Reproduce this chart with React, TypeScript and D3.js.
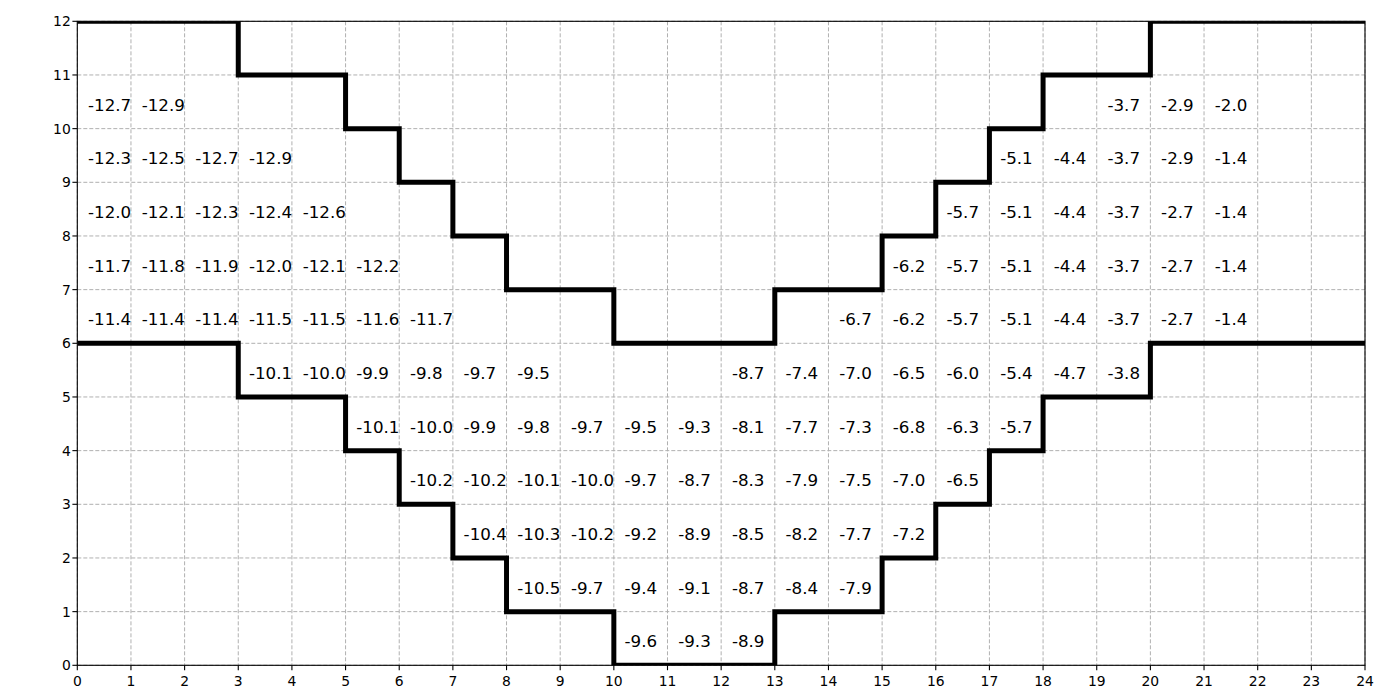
import React from "react";
import * as d3 from "d3";

// Step boundaries (x breakpoints, y level starting at each breakpoint)
const stepX = [0, 3, 5, 6, 7, 8, 10, 13, 15, 16, 17, 18, 20, 24];
const upperY = [12, 11, 10, 9, 8, 7, 6, 7, 8, 9, 10, 11, 12];
const lowerY = [6, 5, 4, 3, 2, 1, 0, 1, 2, 3, 4, 5, 6];

const xTicks = d3.range(0, 25);
const yTicks = d3.range(0, 13);

// Cell values: [row y, first column x, values...]
const row10: [number, number, number[]][] = [[10, 0, [-12.7, -12.9]], [10, 19, [-3.7, -2.9, -2.0]]];
const row9: [number, number, number[]][] = [[9, 0, [-12.3, -12.5, -12.7, -12.9]], [9, 17, [-5.1, -4.4, -3.7, -2.9, -1.4]]];
const row8: [number, number, number[]][] = [[8, 0, [-12.0, -12.1, -12.3, -12.4, -12.6]], [8, 16, [-5.7, -5.1, -4.4, -3.7, -2.7, -1.4]]];
const row7: [number, number, number[]][] = [[7, 0, [-11.7, -11.8, -11.9, -12.0, -12.1, -12.2]], [7, 15, [-6.2, -5.7, -5.1, -4.4, -3.7, -2.7, -1.4]]];
const row6: [number, number, number[]][] = [[6, 0, [-11.4, -11.4, -11.4, -11.5, -11.5, -11.6, -11.7]], [6, 14, [-6.7, -6.2, -5.7, -5.1, -4.4, -3.7, -2.7, -1.4]]];
const row5: [number, number, number[]][] = [[5, 3, [-10.1, -10.0, -9.9, -9.8, -9.7, -9.5]], [5, 12, [-8.7, -7.4, -7.0, -6.5, -6.0, -5.4, -4.7, -3.8]]];
const row4: [number, number, number[]][] = [[4, 5, [-10.1, -10.0, -9.9, -9.8, -9.7, -9.5, -9.3, -8.1, -7.7, -7.3, -6.8, -6.3, -5.7]]];
const row3: [number, number, number[]][] = [[3, 6, [-10.2, -10.2, -10.1, -10.0, -9.7, -8.7, -8.3, -7.9, -7.5, -7.0, -6.5]]];
const row2: [number, number, number[]][] = [[2, 7, [-10.4, -10.3, -10.2, -9.2, -8.9, -8.5, -8.2, -7.7, -7.2]]];
const row1: [number, number, number[]][] = [[1, 8, [-10.5, -9.7, -9.4, -9.1, -8.7, -8.4, -7.9]]];
const row0: [number, number, number[]][] = [[0, 10, [-9.6, -9.3, -8.9]]];

const allRows = [...row10, ...row9, ...row8, ...row7, ...row6, ...row5, ...row4, ...row3, ...row2, ...row1, ...row0];

const W = 1400, H = 700;
const left = 77.3, right = 1365, top = 21.3, bottom = 665.3;
const FONT = "DejaVu Sans, sans-serif";

export default function App() {
  const x = d3.scaleLinear().domain([0, 24]).range([left, right]);
  const y = d3.scaleLinear().domain([0, 12]).range([bottom, top]);

  const stepPts = (ys: number[]) => {
    const pts: [number, number][] = stepX.slice(0, -1).map((sx, i) => [sx, ys[i]]);
    pts.push([stepX[stepX.length - 1], ys[ys.length - 1]]);
    return pts;
  };
  const line = d3.line<[number, number]>().x(d => x(d[0])).y(d => y(d[1])).curve(d3.curveStepAfter);

  const cells: { cx: number; cy: number; v: number }[] = [];
  allRows.forEach(([ry, x0, vals]) => vals.forEach((v, i) => cells.push({ cx: x0 + i, cy: ry, v })));

  return (
    <svg width={W} height={H} style={{ position: "absolute", left: 0, top: 0, background: "#fff" }} fontFamily={FONT}>
      <defs>
        <clipPath id="plotclip">
          <rect x={left} y={top} width={right - left} height={bottom - top} />
        </clipPath>
      </defs>
      <rect x={0} y={0} width={W} height={H} fill="#fff" />
      {/* grid */}
      <g stroke="#b0b0b0" strokeWidth={1} strokeDasharray="4,2">
        {xTicks.map(t => (
          <line key={"gx" + t} x1={x(t)} x2={x(t)} y1={top} y2={bottom} />
        ))}
        {yTicks.map(t => (
          <line key={"gy" + t} x1={left} x2={right} y1={y(t)} y2={y(t)} />
        ))}
      </g>
      {/* step lines */}
      <g clipPath="url(#plotclip)" fill="none" stroke="#000" strokeWidth={5}>
        <path d={line(stepPts(upperY)) || ""} />
        <path d={line(stepPts(lowerY)) || ""} />
      </g>
      {/* cell text */}
      <g fontSize={16.7} fill="#000">
        {cells.map((c, i) => (
          <text key={i} x={x(c.cx + 0.2)} y={y(c.cy + 0.5) + 8.7}>
            {c.v.toFixed(1)}
          </text>
        ))}
      </g>
      {/* spines */}
      <rect x={left} y={top} width={right - left} height={bottom - top} fill="none" stroke="#000" strokeWidth={1.1} />
      {/* ticks */}
      <g stroke="#000" strokeWidth={1.1}>
        {xTicks.map(t => (
          <line key={"tx" + t} x1={x(t)} x2={x(t)} y1={bottom} y2={bottom + 4.9} />
        ))}
        {yTicks.map(t => (
          <line key={"ty" + t} x1={left - 4.9} x2={left} y1={y(t)} y2={y(t)} />
        ))}
      </g>
      <g fontSize={13.9} fill="#000">
        {xTicks.map(t => (
          <text key={"lx" + t} x={x(t)} y={bottom + 20.5} textAnchor="middle">{t}</text>
        ))}
        {yTicks.map(t => (
          <text key={"ly" + t} x={left - 6.5} y={y(t) + 5} textAnchor="end">{t}</text>
        ))}
      </g>
    </svg>
  );
}
